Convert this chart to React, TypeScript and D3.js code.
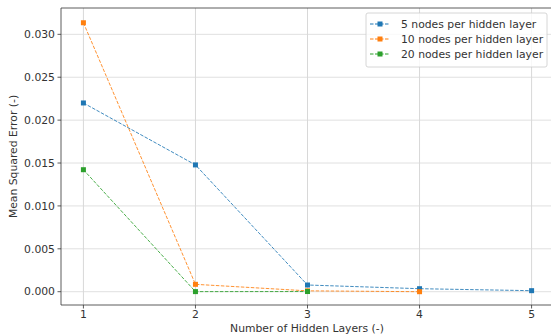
import React from "react";
import * as d3 from "d3";

const layers = [1, 2, 3, 4, 5];
const s5 = [0.0220, 0.01478, 0.00078, 0.00035, 0.00012];
const s10 = [0.03135, 0.00086, 0.0001, 0.0];
const s20 = [0.01422, 0.00001, 0.00002];
const seriesNames = ["5 nodes per hidden layer", "10 nodes per hidden layer", "20 nodes per hidden layer"];
const colors = ["#1f77b4", "#ff7f0e", "#2ca02c"];
const yTicks = [0, 0.005, 0.01, 0.015, 0.02, 0.025, 0.03];

export default function App() {
  const W = 551, H = 335;
  const left = 61, right = 554, top = 8, bottom = 305;
  const x = d3.scaleLinear().domain([0.8, 5.2]).range([left, right]);
  const y = d3.scaleLinear().domain([-0.00155, 0.03307]).range([bottom, top]);
  const all = [s5, s10, s20];
  const line = d3.line<number>().x((_, i) => x(layers[i])).y((d) => y(d));
  const font = "DejaVu Sans, sans-serif";
  const fs = 10.8;
  return (
    <div style={{ position: "absolute", left: 0, top: 0 }}>
      <svg width={W} height={H} style={{ display: "block" }}>
        <rect x={0} y={0} width={W} height={H} fill="#fff" />
        {yTicks.map((t) => (
          <line key={"gy" + t} x1={left} x2={right} y1={y(t)} y2={y(t)} stroke="#e0e0e0" strokeWidth={1} />
        ))}
        {layers.map((t) => (
          <line key={"gx" + t} x1={x(t)} x2={x(t)} y1={top} y2={bottom} stroke="#d8d8d8" strokeWidth={1} />
        ))}
        <line x1={left} x2={right} y1={top} y2={top} stroke="#333" strokeWidth={0.8} />
        <line x1={left} x2={right} y1={bottom} y2={bottom} stroke="#333" strokeWidth={0.8} />
        <line x1={left} x2={left} y1={top} y2={bottom} stroke="#333" strokeWidth={0.8} />
        {yTicks.map((t) => (
          <g key={"ty" + t}>
            <line x1={left - 3.5} x2={left} y1={y(t)} y2={y(t)} stroke="#333" strokeWidth={0.8} />
            <text x={left - 6} y={y(t)} dy="0.35em" textAnchor="end" fontSize={fs} fontFamily={font} fill="#333">
              {t.toFixed(3)}
            </text>
          </g>
        ))}
        {layers.map((t) => (
          <g key={"tx" + t}>
            <line x1={x(t)} x2={x(t)} y1={bottom} y2={bottom + 3.5} stroke="#333" strokeWidth={0.8} />
            <text x={x(t)} y={bottom + 12.5} textAnchor="middle" fontSize={fs} fontFamily={font} fill="#333">
              {t}
            </text>
          </g>
        ))}
        <text x={307} y={332} textAnchor="middle" fontSize={fs} fontFamily={font} fill="#333">
          Number of Hidden Layers (-)
        </text>
        <text transform={`translate(17,${(top + bottom) / 2}) rotate(-90)`} textAnchor="middle" fontSize={fs} fontFamily={font} fill="#333">
          Mean Squared Error (-)
        </text>
        {all.map((s, k) => (
          <g key={"s" + k}>
            <path d={line(s) || ""} fill="none" stroke={colors[k]} strokeWidth={1} strokeDasharray="3.5,1.5" opacity={0.85} />
            {s.map((v, i) => (
              <rect key={i} x={x(layers[i]) - 2.5} y={y(v) - 2.5} width={5} height={5} fill={colors[k]} />
            ))}
          </g>
        ))}
        <g>
          <rect x={366} y={13} width={181} height={54} rx={2} fill="#fff" fillOpacity={0.8} stroke="#ccc" strokeWidth={0.8} />
          {seriesNames.map((n, k) => (
            <g key={"l" + k}>
              <line x1={370} x2={390} y1={24 + k * 15} y2={24 + k * 15} stroke={colors[k]} strokeWidth={1} strokeDasharray="3.5,1.5" />
              <rect x={377.5} y={21.5 + k * 15} width={5} height={5} fill={colors[k]} />
              <text x={401} y={24 + k * 15} dy="0.35em" fontSize={fs} fontFamily={font} fill="#333">
                {n}
              </text>
            </g>
          ))}
        </g>
      </svg>
    </div>
  );
}
